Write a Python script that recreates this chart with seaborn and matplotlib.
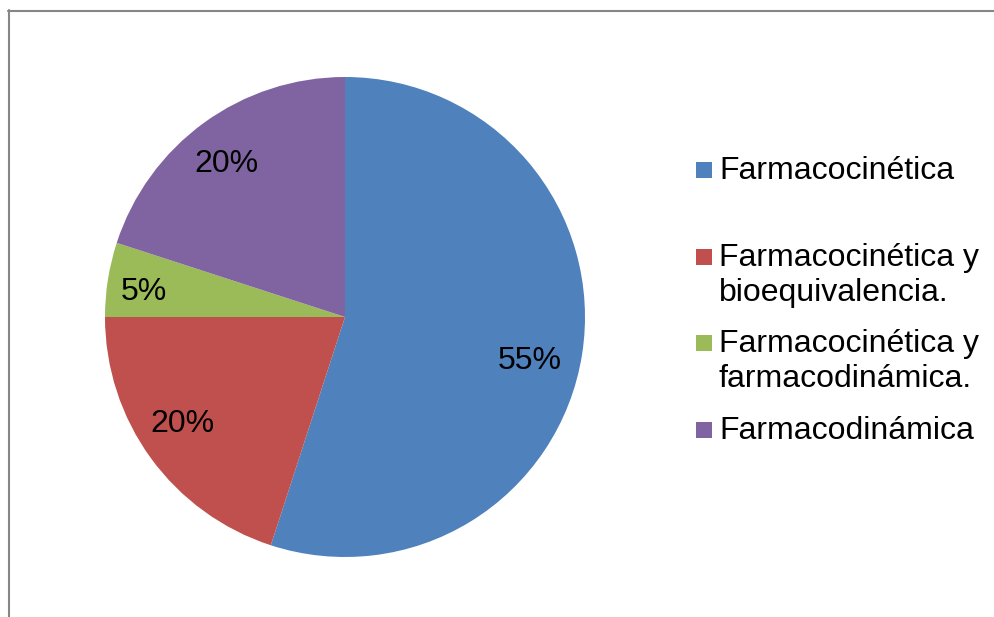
import matplotlib
matplotlib.use("Agg")
import matplotlib.pyplot as plt
from matplotlib.lines import Line2D
from matplotlib.patches import Rectangle
import seaborn as sns

categories = [
    "Farmacocinética",
    "Farmacocinética y\nbioequivalencia.",
    "Farmacocinética y\nfarmacodinámica.",
    "Farmacodinámica",
]
values = [55, 20, 5, 20]
colors = ["#4F81BD", "#C0504D", "#9BBB59", "#8064A2"]

sns.set_theme(style="white")
plt.rcParams["font.family"] = ["Liberation Sans", "DejaVu Sans"]

W, H = 995, 617
fig = plt.figure(figsize=(W / 100, H / 100), dpi=100)
fig.patch.set_facecolor("white")

# pie area: centre (345, 317) px, radius 240 px
cx, cy, r = 345, 317, 240
ax = fig.add_axes([(cx - r) / W, (H - cy - r) / H, 2 * r / W, 2 * r / H])
palette = sns.color_palette(colors)
wedges, texts, autotexts = ax.pie(
    values,
    colors=palette,
    startangle=90,
    counterclock=False,
    autopct=lambda p: f"{p:.0f}%",
    pctdistance=0.8,
    radius=1,
    wedgeprops=dict(linewidth=0),
    textprops=dict(fontsize=23, color="black"),
)
# best-fit style placement of the percentage labels (axes data units)
label_xy = [(0.771, -0.183), (-0.679, -0.446), (-0.838, 0.104), (-0.496, 0.638)]
for t, xy in zip(autotexts, label_xy):
    t.set_position(xy)
ax.set_xlim(-1, 1)
ax.set_ylim(-1, 1)
ax.set_aspect("equal")
ax.axis("off")

# chart frame (top and left edges)
frame_col = "#868686"
fig.add_artist(Line2D([8 / W, 1], [1 - 10.5 / H, 1 - 10.5 / H], color=frame_col, lw=1.5,
                      transform=fig.transFigure))
fig.add_artist(Line2D([8.5 / W, 8.5 / W], [0, 1 - 10 / H], color=frame_col, lw=1.5,
                      transform=fig.transFigure))

# legend entries
entry_y = [170, 257, 343, 430]
line_gap = 35
sq = 16
for label, col, y in zip(categories, colors, entry_y):
    fig.add_artist(Rectangle((696 / W, 1 - (y + sq / 2) / H), sq / W, sq / H,
                             facecolor=col, edgecolor="none", transform=fig.transFigure))
    for i, line in enumerate(label.split("\n")):
        fig.text(719 / W, 1 - (y + 9 + i * line_gap) / H, line, fontsize=23,
                 va="baseline", ha="left", color="black")

fig.savefig("out.png", dpi=100, facecolor="white")
